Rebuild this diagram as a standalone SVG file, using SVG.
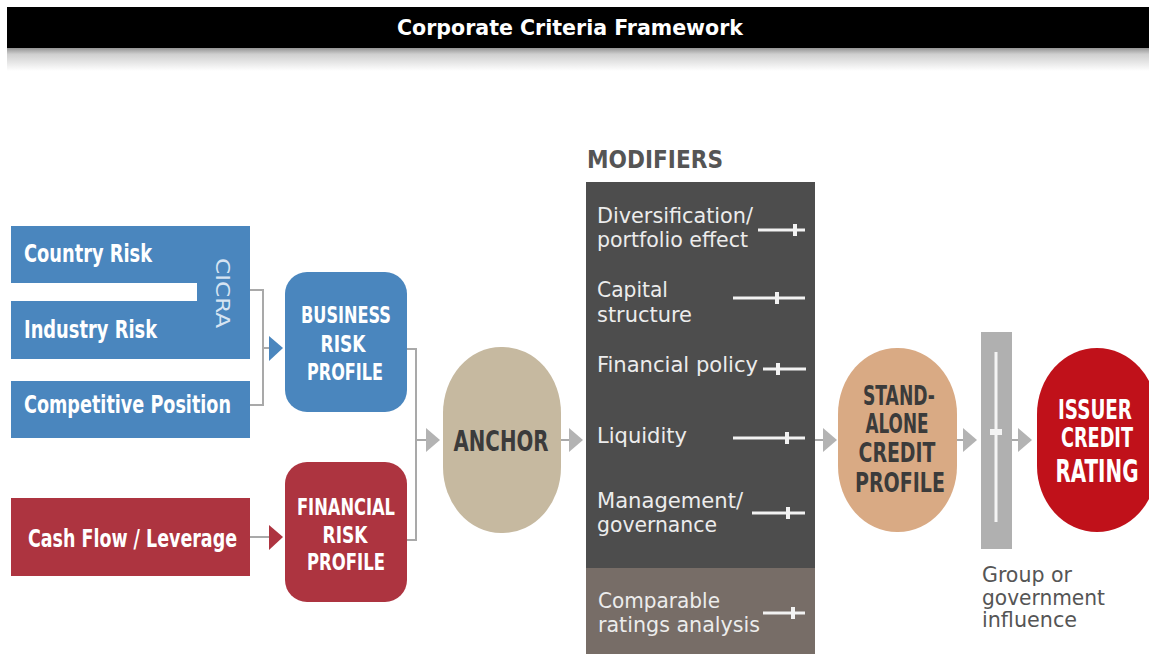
<svg xmlns="http://www.w3.org/2000/svg" width="1149" height="654" viewBox="0 0 1149 654">
<defs>
<linearGradient id="shade" x1="0" y1="0" x2="0" y2="1">
<stop offset="0" stop-color="#8a8a8a"/>
<stop offset="0.3" stop-color="#cfcfcf"/>
<stop offset="1" stop-color="#ffffff"/>
</linearGradient>
<style>
.cond{font-family:"Liberation Sans Narrow","DejaVu Sans Condensed","Liberation Sans",sans-serif;font-weight:bold}
.reg{font-family:"Liberation Sans Narrow","DejaVu Sans Condensed","Liberation Sans",sans-serif;font-weight:normal}
.w{fill:#ffffff}
.dk{fill:#3b3b3b}
.mod{fill:#ececec;font-size:22px}
.blue{fill:#4a86be}
.red{fill:#ad3440}
.line{stroke:#a9a9a9;stroke-width:2;fill:none}
.ah{fill:#b3b3b3}
.sl{stroke:#f2f2f2;stroke-width:3}
.tk{fill:#f2f2f2}
</style>
</defs>
<rect width="1149" height="654" fill="#ffffff"/>
<g id="title">
<rect x="7" y="47" width="1142" height="24" fill="url(#shade)"/>
<rect x="7" y="7" width="1142" height="41" fill="#000000"/>
<text x="570" y="35" text-anchor="middle" class="cond w" font-size="22" textLength="346" lengthAdjust="spacingAndGlyphs">Corporate Criteria Framework</text>
</g>
<g id="connectors">
<polyline class="line" points="250,290 263,290 263,405 250,405"/>
<line class="line" x1="263" y1="348" x2="270" y2="348"/>
<polygon class="blue" points="269,336 283,348 269,361"/>
<line class="line" x1="250" y1="537" x2="270" y2="537"/>
<polygon class="red" points="269,525 283,537 269,550"/>
<polyline class="line" points="407,349 416,349 416,540 407,540"/>
<line class="line" x1="416" y1="440" x2="428" y2="440"/>
<polygon class="ah" points="426,428 440,440 426,452"/>
<line class="line" x1="561" y1="440" x2="570" y2="440"/>
<polygon class="ah" points="569,428 583,440 569,452"/>
<line class="line" x1="815" y1="440" x2="824" y2="440"/>
<polygon class="ah" points="823,428 837,440 823,452"/>
<line class="line" x1="957" y1="440" x2="965" y2="440"/>
<polygon class="ah" points="963,428 977,440 963,452"/>
<line class="line" x1="1012" y1="440" x2="1019" y2="440"/>
<polygon class="ah" points="1018,428 1032,440 1018,452"/>
</g>
<g id="cicra">
<path class="blue" d="M11,226 H250 V359 H11 V301 H197 V283 H11 Z"/>
<text x="24" y="262" class="cond w" font-size="25" textLength="128" lengthAdjust="spacingAndGlyphs">Country Risk</text>
<text x="24" y="338" class="cond w" font-size="25" textLength="133" lengthAdjust="spacingAndGlyphs">Industry Risk</text>
<text transform="translate(216,258) rotate(90)" class="reg" fill="#d6e4f2" font-size="19" textLength="70" lengthAdjust="spacingAndGlyphs">CICRA</text>
</g>
<g id="competitive-position">
<rect class="blue" x="11" y="381" width="239" height="57"/>
<text x="24" y="413" class="cond w" font-size="25" textLength="207" lengthAdjust="spacingAndGlyphs">Competitive Position</text>
</g>
<g id="cash-flow">
<rect class="red" x="11" y="498" width="239" height="78"/>
<text x="28" y="547" class="cond w" font-size="25" textLength="209" lengthAdjust="spacingAndGlyphs">Cash Flow / Leverage</text>
</g>
<g id="business-risk">
<rect class="blue" x="285" y="272" width="122" height="140" rx="22"/>
<text x="346" y="323" text-anchor="middle" class="cond w" font-size="23" textLength="90" lengthAdjust="spacingAndGlyphs">BUSINESS</text>
<text x="343" y="352" text-anchor="middle" class="cond w" font-size="23" textLength="45" lengthAdjust="spacingAndGlyphs">RISK</text>
<text x="345" y="380" text-anchor="middle" class="cond w" font-size="23" textLength="76" lengthAdjust="spacingAndGlyphs">PROFILE</text>
</g>
<g id="financial-risk">
<rect class="red" x="285" y="462" width="122" height="140" rx="22"/>
<text x="346" y="515" text-anchor="middle" class="cond w" font-size="23" textLength="98" lengthAdjust="spacingAndGlyphs">FINANCIAL</text>
<text x="345" y="543" text-anchor="middle" class="cond w" font-size="23" textLength="45" lengthAdjust="spacingAndGlyphs">RISK</text>
<text x="346" y="570" text-anchor="middle" class="cond w" font-size="23" textLength="78" lengthAdjust="spacingAndGlyphs">PROFILE</text>
</g>
<g id="anchor">
<rect x="443" y="347" width="118" height="186" rx="58" ry="66" fill="#c6b9a0"/>
<text x="501" y="451" text-anchor="middle" class="cond dk" font-size="29" textLength="95" lengthAdjust="spacingAndGlyphs">ANCHOR</text>
</g>
<g id="modifiers">
<text x="587" y="168" class="cond" fill="#555555" font-size="25" textLength="136" lengthAdjust="spacingAndGlyphs">MODIFIERS</text>
<rect x="586" y="182" width="229" height="386" fill="#4d4d4d"/>
<rect x="586" y="568" width="229" height="86" fill="#776d67"/>
<text x="597" y="223" class="reg mod" textLength="156" lengthAdjust="spacingAndGlyphs">Diversification/</text>
<text x="597" y="247" class="reg mod" textLength="151" lengthAdjust="spacingAndGlyphs">portfolio effect</text>
<line class="sl" x1="758" y1="230" x2="805" y2="230"/>
<rect class="tk" x="793" y="224" width="4" height="12"/>
<text x="597" y="297" class="reg mod" textLength="71" lengthAdjust="spacingAndGlyphs">Capital</text>
<text x="597" y="322" class="reg mod" textLength="95" lengthAdjust="spacingAndGlyphs">structure</text>
<line class="sl" x1="733" y1="298" x2="805" y2="298"/>
<rect class="tk" x="775" y="292" width="4" height="12"/>
<text x="597" y="372" class="reg mod" textLength="161" lengthAdjust="spacingAndGlyphs">Financial policy</text>
<line class="sl" x1="763" y1="369" x2="806" y2="369"/>
<rect class="tk" x="776" y="363" width="4" height="12"/>
<text x="597" y="443" class="reg mod" textLength="90" lengthAdjust="spacingAndGlyphs">Liquidity</text>
<line class="sl" x1="733" y1="438" x2="805" y2="438"/>
<rect class="tk" x="785" y="432" width="4" height="12"/>
<text x="597" y="508" class="reg mod" textLength="146" lengthAdjust="spacingAndGlyphs">Management/</text>
<text x="597" y="532" class="reg mod" textLength="120" lengthAdjust="spacingAndGlyphs">governance</text>
<line class="sl" x1="752" y1="513" x2="805" y2="513"/>
<rect class="tk" x="786" y="507" width="4" height="12"/>
<text x="598" y="608" class="reg mod" textLength="122" lengthAdjust="spacingAndGlyphs">Comparable</text>
<text x="598" y="632" class="reg mod" textLength="162" lengthAdjust="spacingAndGlyphs">ratings analysis</text>
<line class="sl" x1="763" y1="613" x2="805" y2="613"/>
<rect class="tk" x="791" y="607" width="4" height="12"/>
</g>
<g id="standalone">
<rect x="838" y="348" width="119" height="184" rx="59" ry="66" fill="#d9aa84"/>
<text x="899" y="405" text-anchor="middle" class="cond dk" font-size="27" textLength="72" lengthAdjust="spacingAndGlyphs">STAND-</text>
<text x="897" y="433" text-anchor="middle" class="cond dk" font-size="27" textLength="63" lengthAdjust="spacingAndGlyphs">ALONE</text>
<text x="897" y="462" text-anchor="middle" class="cond dk" font-size="27" textLength="77" lengthAdjust="spacingAndGlyphs">CREDIT</text>
<text x="900" y="492" text-anchor="middle" class="cond dk" font-size="27" textLength="90" lengthAdjust="spacingAndGlyphs">PROFILE</text>
</g>
<g id="group-influence">
<rect x="981" y="332" width="31" height="217" fill="#b0b0b0"/>
<rect x="994.5" y="352" width="3" height="170" fill="#f4f4f4"/>
<rect x="990" y="429" width="12" height="6" fill="#f4f4f4"/>
<text x="982" y="582" class="reg" fill="#555555" font-size="21" textLength="90" lengthAdjust="spacingAndGlyphs">Group or</text>
<text x="982" y="605" class="reg" fill="#555555" font-size="21" textLength="123" lengthAdjust="spacingAndGlyphs">government</text>
<text x="982" y="627" class="reg" fill="#555555" font-size="21" textLength="95" lengthAdjust="spacingAndGlyphs">influence</text>
</g>
<g id="issuer">
<rect x="1037" y="348" width="120" height="184" rx="60" ry="66" fill="#c0111a"/>
<text x="1095" y="419" text-anchor="middle" class="cond w" font-size="27" textLength="74" lengthAdjust="spacingAndGlyphs">ISSUER</text>
<text x="1097" y="447" text-anchor="middle" class="cond w" font-size="27" textLength="72" lengthAdjust="spacingAndGlyphs">CREDIT</text>
<text x="1097" y="482" text-anchor="middle" class="cond w" font-size="32" textLength="83" lengthAdjust="spacingAndGlyphs">RATING</text>
</g>
</svg>
